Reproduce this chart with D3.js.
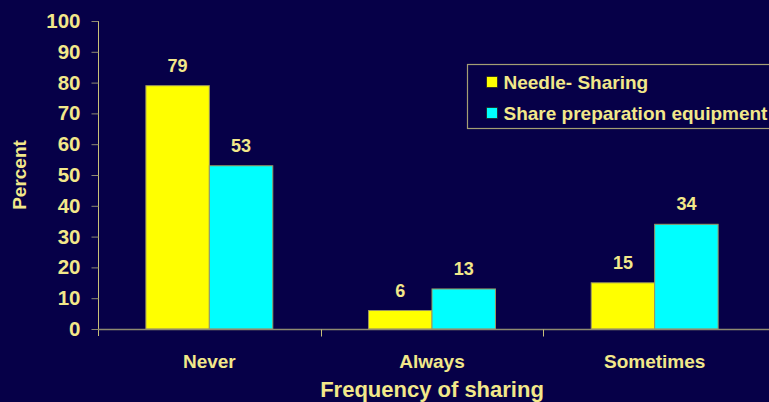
<!DOCTYPE html>
<html>
<head>
<meta charset="utf-8">
<script src="https://cdn.jsdelivr.net/npm/d3@7"></script>
<style>
  html, body { margin: 0; padding: 0; background: #060048; }
  svg { display: block; }
  text { font-family: "Liberation Sans", Arial, sans-serif; font-weight: bold; }
</style>
</head>
<body>
<svg id="chart" width="769" height="402"></svg>
<script>
const categories = ["Never", "Always", "Sometimes"];
const seriesNames = ["Needle- Sharing", "Share preparation equipment"];
const needleSharing = [79, 6, 15];
const shareEquipment = [53, 13, 34];
const yTicks = [0, 10, 20, 30, 40, 50, 60, 70, 80, 90, 100];
const xTitle = "Frequency of sharing";
const yTitle = "Percent";

const W = 769, H = 402;
const bg = "#060048";
const txt = "#F2E88A";
const axisGray = "#8e8a70";
const colors = ["#FFFF00", "#00FFFF"];

const svg = d3.select("#chart");
svg.append("rect").attr("width", W).attr("height", H).attr("fill", bg);

const plotLeft = 98, plotRight = 766, plotTop = 21, plotBottom = 329;

const x = d3.scaleBand().domain(categories).range([plotLeft, plotRight])
  .paddingInner(0.43).paddingOuter(0.215);
const xAxisScale = d3.scaleBand().domain(categories).range([plotLeft, plotRight]);
const xSub = d3.scaleBand().domain(seriesNames).range([0, x.bandwidth()]);
const y = d3.scaleLinear().domain([0, 100]).range([plotBottom, plotTop]);

const data = categories.map((c, i) => ({
  cat: c,
  vals: [
    { s: seriesNames[0], v: needleSharing[i], color: colors[0] },
    { s: seriesNames[1], v: shareEquipment[i], color: colors[1] }
  ]
}));

// Bars
const groups = svg.append("g").selectAll("g").data(data).join("g")
  .attr("transform", d => `translate(${x(d.cat)},0)`);
groups.selectAll("rect").data(d => d.vals).join("rect")
  .attr("x", d => xSub(d.s))
  .attr("y", d => y(d.v))
  .attr("width", xSub.bandwidth())
  .attr("height", d => y(0) - y(d.v))
  .attr("fill", d => d.color)
  .attr("stroke", "#9c9660")
  .attr("stroke-width", 1);
groups.selectAll("text").data(d => d.vals).join("text")
  .attr("x", d => xSub(d.s) + xSub.bandwidth() / 2)
  .attr("y", d => y(d.v) - 14)
  .attr("text-anchor", "middle")
  .attr("fill", txt)
  .attr("font-size", 18)
  .text(d => d.v);

// Y axis
const yAxis = svg.append("g").attr("transform", `translate(${plotLeft + 0.5},0)`)
  .call(d3.axisLeft(y).tickValues(yTicks).tickSize(7).tickPadding(11));
yAxis.select(".domain").attr("stroke", "#c8bf78").attr("d", `M0,${plotTop}V${plotBottom + 7}`);
yAxis.selectAll(".tick line").attr("stroke", axisGray);
yAxis.selectAll(".tick text").attr("fill", txt).attr("font-size", 20.5)
  .attr("font-family", "Liberation Sans, Arial, sans-serif").attr("font-weight", "bold");

// X axis
const xAxis = svg.append("g").attr("transform", `translate(0,${plotBottom + 0.5})`)
  .call(d3.axisBottom(xAxisScale).tickSize(0).tickPadding(25));
xAxis.select(".domain").attr("stroke", axisGray).attr("stroke-width", 1.5)
  .attr("d", `M${plotLeft},0H${W}`);
xAxis.selectAll(".tick text").attr("fill", txt).attr("font-size", 19)
  .attr("font-family", "Liberation Sans, Arial, sans-serif").attr("font-weight", "bold");
// Category separator ticks
const bounds = categories.slice(1).map(c => xAxisScale(c));
xAxis.selectAll(".sep").data(bounds).join("line")
  .attr("x1", d => Math.round(d) + 0.5).attr("x2", d => Math.round(d) + 0.5)
  .attr("y1", 0).attr("y2", 7)
  .attr("stroke", "#c8bf78");

// Axis titles
svg.append("text")
  .attr("x", (plotLeft + plotRight) / 2)
  .attr("y", 397)
  .attr("text-anchor", "middle")
  .attr("fill", txt)
  .attr("font-size", 22)
  .text(xTitle);
svg.append("text")
  .attr("transform", `translate(26,${(plotTop + plotBottom) / 2}) rotate(-90)`)
  .attr("text-anchor", "middle")
  .attr("fill", txt)
  .attr("font-size", 19)
  .text(yTitle);

// Legend
const legend = svg.append("g").attr("transform", "translate(467.5,64.5)");
legend.append("rect").attr("width", 330).attr("height", 64)
  .attr("fill", bg).attr("stroke", "#a49e74").attr("stroke-width", 1.2);
const li = legend.selectAll(".li").data(seriesNames).join("g")
  .attr("transform", (d, i) => `translate(19,${12 + i * 31})`);
li.append("rect").attr("width", 11).attr("height", 11)
  .attr("fill", (d, i) => colors[i]).attr("stroke", "#222").attr("stroke-width", 0.8);
li.append("text").attr("x", 17).attr("y", 12)
  .attr("fill", txt).attr("font-size", 19).text(d => d);
</script>
</body>
</html>
